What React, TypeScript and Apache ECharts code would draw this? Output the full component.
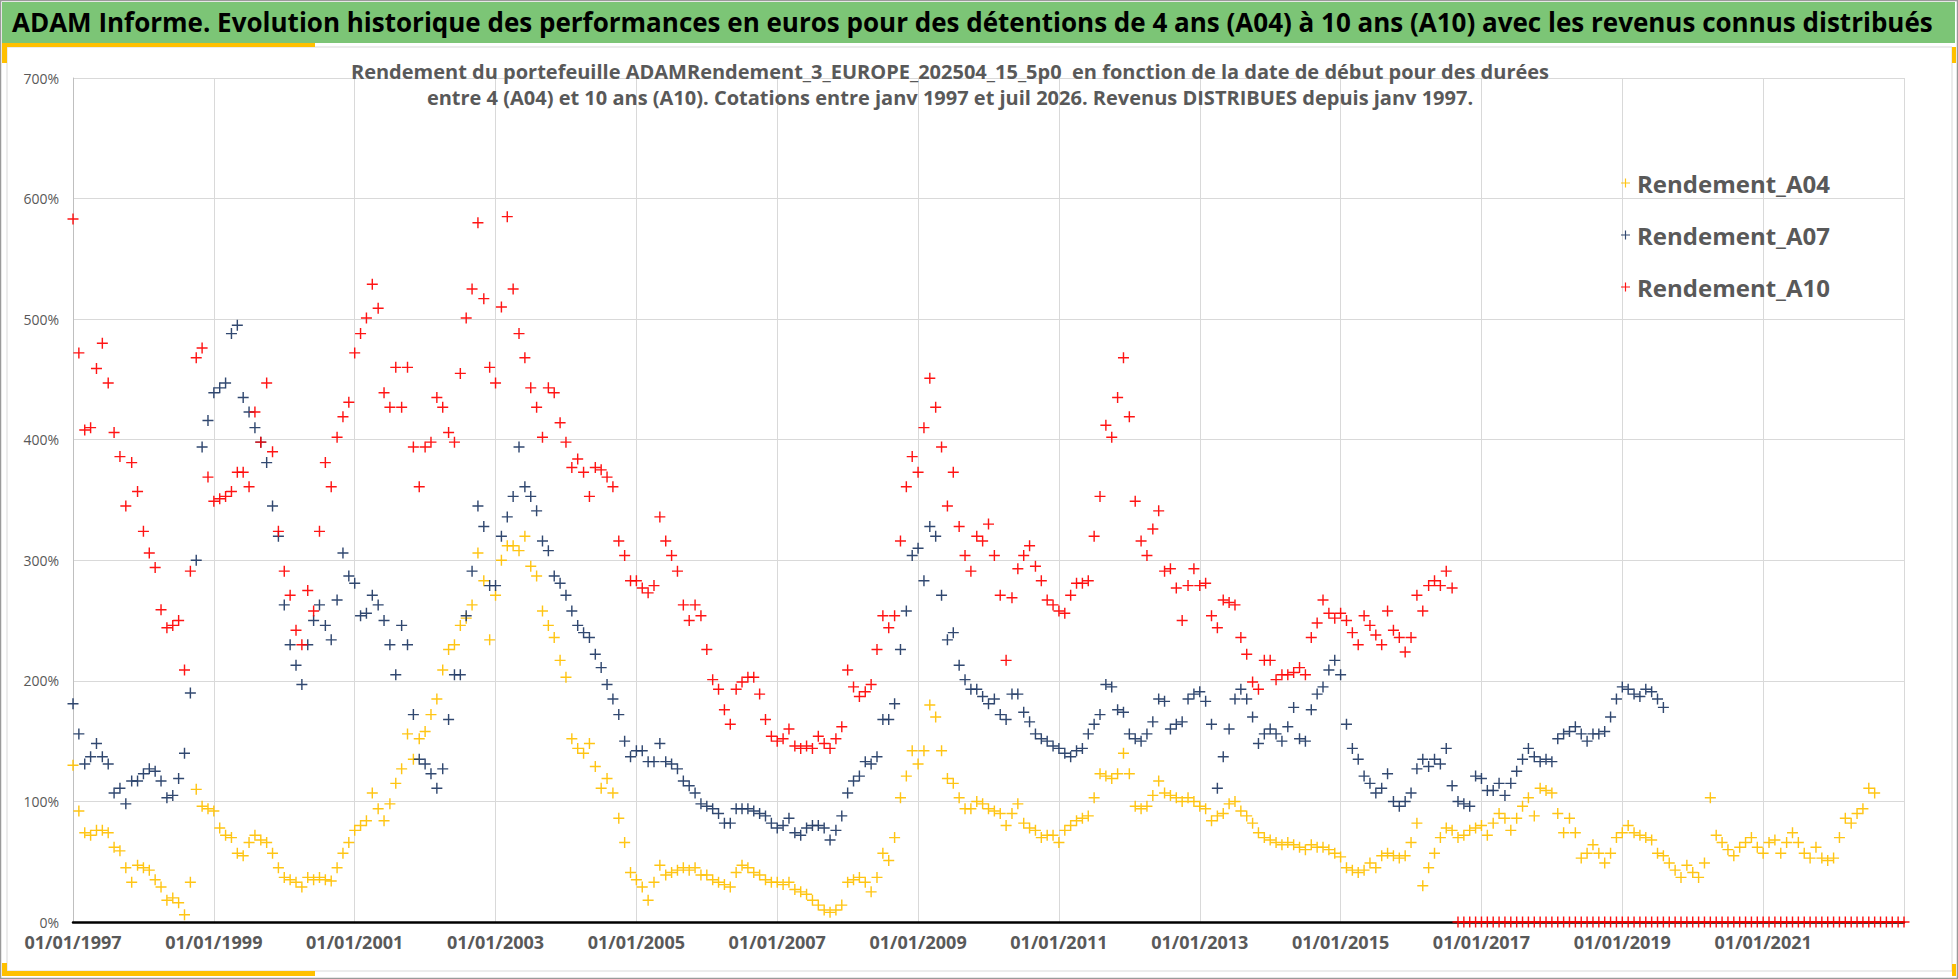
import React, { useEffect, useRef } from "react";
import * as echarts from "echarts";

// Monthly samples starting January 1997 (index 0 = 01/1997), values in %
const START_YEAR = 1997;
const X_TICKS_YEARS = [1997, 1999, 2001, 2003, 2005, 2007, 2009, 2011, 2013, 2015, 2017, 2019, 2021];

const A04 = [
  130, 92, 74, 72, 76, 76, 74, 62, 59, 45,
  33, 47, 45, 43, 35, 29, 18, 20, 16, 6,
  33, 110, 96, 94, 92, 78, 72, 70, 57, 55,
  66, 72, 68, 66, 57, 45, 37, 35, 33, 29,
  37, 35, 37, 35, 34, 45, 57, 66, 76, 80,
  84, 107, 94, 84, 98, 115, 127, 156, 135, 152,
  158, 172, 185, 209, 226, 230, 246, 252, 263, 306,
  283, 234, 271, 300, 312, 312, 308, 320, 295, 287,
  258, 246, 236, 217, 203, 152, 144, 140, 148, 129,
  111, 119, 107, 86, 66, 41, 35, 29, 18, 33,
  47, 39, 41, 43, 45, 43, 45, 39, 39, 35,
  33, 31, 29, 41, 47, 45, 41, 39, 35, 33,
  33, 31, 33, 27, 25, 23, 18, 14, 10, 8,
  10, 14, 33, 35, 37, 33, 25, 37, 57, 51,
  70, 103, 121, 142, 131, 142, 180, 170, 142, 119,
  115, 103, 94, 94, 100, 98, 94, 92, 90, 80,
  90, 98, 82, 78, 76, 70, 72, 72, 66, 76,
  80, 84, 86, 88, 103, 123, 121, 119, 123, 140,
  123, 96, 94, 96, 105, 117, 107, 105, 103, 100,
  103, 100, 96, 94, 84, 88, 90, 98, 100, 92,
  88, 82, 74, 70, 68, 66, 64, 66, 64, 62,
  60, 64, 62, 62, 60, 57, 54, 45, 43, 41,
  43, 49, 45, 55, 57, 55, 53, 55, 66, 82,
  30, 45, 57, 70, 78, 76, 70, 72, 76, 78,
  80, 72, 82, 90, 86, 76, 86, 96, 103, 88,
  111, 109, 107, 90, 74, 86, 74, 53, 57, 64,
  57, 49, 57, 70, 74, 80, 74, 72, 70, 68,
  57, 55, 49, 43, 37, 47, 41, 37, 49, 103,
  72, 66, 60, 55, 62, 66, 70, 62, 57, 66,
  68, 57, 66, 74, 66, 57, 53, 62, 53, 51,
  53, 70, 86, 82, 90, 94, 111, 107,
];

const A07 = [
  181, 156, 131, 137, 148, 137, 131, 107, 111, 98,
  117, 117, 123, 127, 125, 117, 103, 105, 119, 140,
  190, 300, 394, 416, 439, 443, 447, 488, 495, 435,
  423, 410, 398, 381, 345, 320, 263, 230, 213, 197,
  230, 250, 263, 246, 234, 267, 306, 287, 281, 254,
  256, 271, 263, 250, 230, 205, 246, 230, 172, 135,
  131, 123, 111, 127, 168, 205, 205, 254, 291, 345,
  328, 279, 279, 320, 336, 353, 394, 361, 353, 341,
  316, 308, 287, 281, 271, 258, 246, 240, 236, 222,
  211, 197, 185, 172, 150, 137, 142, 142, 133, 133,
  148, 133, 131, 127, 117, 113, 107, 98, 96, 94,
  90, 82, 82, 94, 94, 94, 92, 90, 88, 82,
  78, 80, 86, 74, 72, 78, 80, 80, 78, 68,
  76, 88, 107, 117, 121, 133, 131, 137, 168, 168,
  181, 226, 258, 304, 310, 283, 328, 320, 271, 234,
  240, 213, 201, 193, 193, 187, 181, 185, 172, 168,
  189, 189, 174, 166, 156, 152, 150, 146, 144, 140,
  137, 142, 144, 156, 164, 172, 197, 195, 176, 174,
  156, 152, 150, 156, 166, 185, 183, 160, 164, 166,
  185, 189, 191, 183, 164, 111, 137, 160, 185, 193,
  185, 170, 148, 156, 160, 156, 150, 162, 178, 152,
  150, 176, 189, 195, 209, 217, 205, 164, 144, 135,
  121, 115, 107, 111, 123, 100, 96, 100, 107, 127,
  135, 129, 135, 131, 144, 113, 100, 98, 96, 121,
  119, 109, 109, 115, 105, 115, 125, 135, 144, 137,
  133, 135, 133, 152, 156, 158, 162, 156, 150, 156,
  156, 158, 170, 185, 195, 193, 189, 187, 193, 191,
  185, 178,
];

const A10 = [
  583, 472, 408, 410, 459, 480, 447, 406, 386, 345,
  381, 357, 324, 306, 294, 259, 244, 246, 250, 209,
  291, 468, 476, 369, 349, 351, 353, 357, 373, 373,
  361, 423, 398, 447, 390, 324, 291, 271, 242, 230,
  275, 258, 324, 381, 361, 402, 419, 431, 472, 488,
  501, 529, 509, 439, 427, 460, 427, 460, 394, 361,
  394, 398, 435, 427, 406, 398, 455, 501, 525, 580,
  517, 460, 447, 510, 585, 525, 488, 468, 443, 427,
  402, 443, 439, 414, 398, 377, 384, 373, 353, 377,
  375, 369, 361, 316, 304, 283, 283, 277, 273, 279,
  336, 316, 304, 291, 263, 250, 263, 254, 226, 201,
  193, 176, 164, 193, 199, 203, 203, 189, 168, 154,
  150, 152, 160, 146, 144, 146, 144, 154, 148, 144,
  152, 162, 209, 195, 187, 191, 197, 226, 254, 244,
  254, 316, 361, 386, 373, 410, 451, 427, 394, 345,
  373, 328, 304, 291, 320, 316, 330, 304, 271, 217,
  269, 293, 304, 312, 295, 283, 267, 263, 258, 256,
  271, 281, 281, 283, 320, 353, 412, 402, 435, 468,
  419, 349, 316, 304, 326, 341, 291, 293, 277, 250,
  279, 293, 279, 281, 254, 244, 267, 265, 263, 236,
  222, 199, 193, 217, 217, 201, 205, 205, 207, 211,
  205, 236, 248, 267, 256, 252, 256, 250, 240, 230,
  254, 246, 238, 230, 258, 242, 236, 224, 236, 271,
  258, 279, 283, 279, 291, 277,
  0, 0, 0, 0, 0, 0, 0, 0, 0, 0,
  0, 0, 0, 0, 0, 0, 0, 0, 0, 0,
  0, 0, 0, 0, 0, 0, 0, 0, 0, 0,
  0, 0, 0, 0, 0, 0, 0, 0, 0, 0,
  0, 0, 0, 0, 0, 0, 0, 0, 0, 0,
  0, 0, 0, 0, 0, 0, 0, 0, 0, 0,
  0, 0, 0, 0, 0, 0, 0, 0, 0, 0,
  0, 0, 0, 0, 0, 0, 0,
];

const SERIES_NAMES = ["Rendement_A04", "Rendement_A07", "Rendement_A10"];
const SERIES_COLORS = ["#FFC000", "#203864", "#FF0000"];

const TITLE =
  "ADAM Informe. Evolution historique des performances en euros pour des détentions de 4 ans (A04) à 10 ans (A10) avec les revenus connus distribués";
const SUBTITLE =
  "Rendement du portefeuille ADAMRendement_3_EUROPE_202504_15_5p0  en fonction de la date de début pour des durées\nentre 4 (A04) et 10 ans (A10). Cotations entre janv 1997 et juil 2026. Revenus DISTRIBUES depuis janv 1997.";

const PLUS = "path://M4.35,0H5.65V4.35H10V5.65H5.65V10H4.35V5.65H0V4.35H4.35Z";
const FONT = "'Open Sans', 'DejaVu Sans', sans-serif";

const toPoints = (arr: number[]) => arr.map((v, i) => [i / 12, v]);

export default function App() {
  const ref = useRef<HTMLDivElement>(null);

  useEffect(() => {
    if (!ref.current) return;
    const chart = echarts.init(ref.current, null, { renderer: "svg" });
    const lastTick = X_TICKS_YEARS[X_TICKS_YEARS.length - 1] - START_YEAR;

    const option = {
      animation: false,
      backgroundColor: "#ffffff",
      title: [
        {
          text: TITLE,
          left: 12,
          top: 7,
          padding: 0,
          textStyle: { fontFamily: FONT, fontWeight: "bold", fontSize: 26, color: "#000000", lineHeight: 30 },
        },
        {
          text: SUBTITLE,
          left: 950,
          top: 58,
          textAlign: "center",
          padding: 0,
          textStyle: { fontFamily: FONT, fontWeight: "bold", fontSize: 20, color: "#595959", lineHeight: 26 },
        },
      ],
      graphic: [
        { type: "rect", z: 0, shape: { x: 0.5, y: 0.5, width: 1957, height: 978 }, style: { fill: "none", stroke: "#9a9a9a", lineWidth: 1.5 } },
        { type: "rect", z: 0, shape: { x: 2, y: 2, width: 1953, height: 41 }, style: { fill: "#7CC576" } },
        { type: "rect", z: 0, shape: { x: 7, y: 47, width: 1945, height: 924 }, style: { fill: "none", stroke: "#D9D9D9", lineWidth: 1 } },
        { type: "rect", z: 1, shape: { x: 2, y: 43, width: 313, height: 4 }, style: { fill: "#FFC000" } },
        { type: "rect", z: 1, shape: { x: 2, y: 43, width: 5, height: 20 }, style: { fill: "#FFC000" } },
        { type: "rect", z: 1, shape: { x: 1952, y: 47, width: 4, height: 16 }, style: { fill: "#FFC000" } },
        { type: "rect", z: 1, shape: { x: 2, y: 971, width: 313, height: 5 }, style: { fill: "#FFC000" } },
        { type: "rect", z: 1, shape: { x: 2, y: 963, width: 5, height: 13 }, style: { fill: "#FFC000" } },
        { type: "rect", z: 1, shape: { x: 1952, y: 964, width: 4, height: 12 }, style: { fill: "#FFC000" } },
      ],
      legend: {
        orient: "vertical",
        left: 1616,
        top: 163,
        itemGap: 22,
        itemWidth: 9,
        itemHeight: 9,
        data: SERIES_NAMES,
        textStyle: { fontFamily: FONT, fontWeight: "bold", fontSize: 24, color: "#595959", lineHeight: 30, padding: [0, 0, 0, 2] },
      },
      grid: { left: 73, right: 54, top: 78, bottom: 57, containLabel: false },
      xAxis: {
        type: "value",
        min: 0,
        max: 26,
        interval: 2,
        axisLine: { show: true, onZero: false, lineStyle: { color: "#000000", width: 2.5 } },
        axisTick: { show: false },
        splitLine: { show: true, lineStyle: { color: "#D9D9D9", width: 1 } },
        axisLabel: {
          margin: 11,
          fontFamily: FONT,
          fontWeight: "bold",
          fontSize: 18,
          color: "#595959",
          showMaxLabel: true,
          formatter: (v: number) => (v > lastTick ? "" : "01/01/" + (START_YEAR + v)),
        },
      },
      yAxis: {
        type: "value",
        min: 0,
        max: 700,
        interval: 100,
        axisLine: { show: true, lineStyle: { color: "#BFBFBF", width: 1 } },
        axisTick: { show: false },
        splitLine: { show: true, lineStyle: { color: "#D9D9D9", width: 1 } },
        axisLabel: { margin: 14, fontFamily: FONT, fontSize: 14, color: "#595959", formatter: (v: number) => v + "%" },
      },
      series: [A04, A07, A10].map((arr, k) => ({
        name: SERIES_NAMES[k],
        type: "scatter",
        symbol: PLUS,
        symbolSize: 11,
        data: toPoints(arr),
        itemStyle: { color: SERIES_COLORS[k], opacity: 0.92 },
        z: 3 + k,
        emphasis: { disabled: true },
      })),
    };

    chart.setOption(option as any);
    return () => chart.dispose();
  }, []);

  return <div ref={ref} style={{ position: "fixed", left: 0, top: 0, width: "1958px", height: "979px" }} />;
}
